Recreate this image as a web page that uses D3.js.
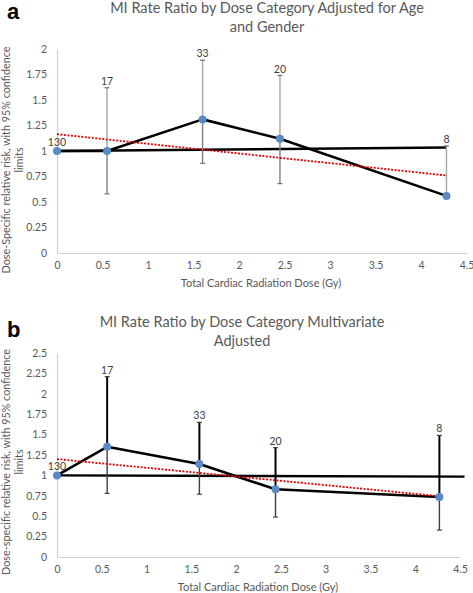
<!DOCTYPE html>
<html><head><meta charset="utf-8">
<script src="https://cdn.jsdelivr.net/npm/d3@7"></script>
<style>
body{margin:0;background:#fff;}
svg text{font-family:Lato,"Open Sans",sans-serif;}
</style></head>
<body><svg id="c" width="473" height="593"></svg>
<script>
// ---- Panel a data ----
const doseA = [0, 0.55, 1.6, 2.45, 4.28];
const rrA = [1, 1, 1.31, 1.12, 0.56];
const upperA = [1, 1.62, 1.89, 1.74, 1.05];
const lowerA = [1, 0.58, 0.88, 0.68, 0.56];
const countsA = ["130", "17", "33", "20", "8"];
const refLineA = [[0, 1], [4.28, 1.035]];
const trendA = [[0, 1.165], [4.28, 0.76]];
const yTicksA = [0, 0.25, 0.5, 0.75, 1, 1.25, 1.5, 1.75, 2];

// ---- Panel b data ----
const doseB = [0, 0.56, 1.59, 2.44, 4.27];
const rrB = [1, 1.35, 1.14, 0.83, 0.735];
const upperB = [1, 2.21, 1.65, 1.34, 1.49];
const lowerB = [1, 0.78, 0.77, 0.49, 0.33];
const countsB = ["130", "17", "33", "20", "8"];
const refLineB = [[0, 1], [4.55, 0.985]];
const trendB = [[0, 1.2], [4.27, 0.745]];
const yTicksB = [0, 0.25, 0.5, 0.75, 1, 1.25, 1.5, 1.75, 2, 2.25, 2.5];

const xTicks = [0, 0.5, 1, 1.5, 2, 2.5, 3, 3.5, 4, 4.5];
const titleA = ["MI Rate Ratio by Dose Category Adjusted for Age", "and Gender"];
const titleB = ["MI Rate Ratio by Dose Category Multivariate", "Adjusted"];
const yLabelA = ["Dose-Specific relative risk, with 95% confidence", "limits"];
const yLabelB = ["Dose-specific relative risk, with 95% confidence", "limits"];
const xLabel = "Total Cardiac Radiation Dose (Gy)";

const svg = d3.select("#c");
const fmt = d => String(d);

function panel(cfg) {
  const g = svg.append("g");
  const x = d3.scaleLinear().domain([0, 4.5]).range([57, cfg.xRight]);
  const y = d3.scaleLinear().domain([0, cfg.yMax]).range([cfg.yBottom, cfg.yTop]);

  // letter
  g.append("text").attr("x", 7).attr("y", cfg.letterY)
    .style("font-family", "Arial, 'Liberation Sans', sans-serif")
    .attr("font-weight", "bold").attr("font-size", 22).attr("fill", "#000").text(cfg.letter);

  // title
  cfg.title.forEach((t, i) => {
    g.append("text").attr("x", cfg.titleX).attr("y", cfg.titleY + i * 19).attr("text-anchor", "middle")
      .attr("font-size", 14.5).attr("fill", "#595959").text(t);
  });

  // axes
  const yAxis = d3.axisLeft(y).tickValues(cfg.yTicks).tickFormat(fmt).tickSize(0).tickPadding(10);
  const ga = g.append("g").attr("transform", "translate(57,0)").call(yAxis);
  ga.select(".domain").attr("stroke", "#d0d0d0").attr("stroke-width", 1.2);
  ga.selectAll("text").attr("fill", "#595959").attr("font-size", 10.5).style("font-family", "Lato, sans-serif");

  const xAxis = d3.axisBottom(x).tickValues(xTicks).tickFormat(fmt).tickSize(0).tickPadding(9);
  const gx = g.append("g").attr("transform", `translate(0,${cfg.yBottom})`).call(xAxis);
  gx.select(".domain").attr("stroke", "#d0d0d0").attr("stroke-width", 1.2);
  gx.selectAll("text").attr("fill", "#595959").attr("font-size", 10.5).style("font-family", "Lato, sans-serif");

  // axis titles
  g.append("text").attr("x", cfg.xLabelX).attr("y", cfg.xLabelY).attr("text-anchor", "middle")
    .attr("font-size", 11).attr("fill", "#595959").text(xLabel);
  cfg.yLabel.forEach((t, i) => {
    g.append("text").attr("transform", `translate(${10 + i * 13},${cfg.yLabelC}) rotate(-90)`)
      .attr("text-anchor", "middle").attr("font-size", 10.8).attr("fill", "#595959").text(t);
  });

  const line = d3.line().x(d => x(d[0])).y(d => y(d[1]));

  // reference horizontal line
  g.append("path").attr("d", line(cfg.ref)).attr("fill", "none").attr("stroke", "#000").attr("stroke-width", 2.4);

  // error bars
  const idx = d3.range(cfg.dose.length);
  idx.forEach(i => {
    const cx = x(cfg.dose[i]);
    if (cfg.upper[i] > cfg.rr[i]) {
      g.append("line").attr("x1", cx).attr("x2", cx).attr("y1", y(cfg.rr[i])).attr("y2", y(cfg.upper[i]))
        .attr("stroke", cfg.upColor).attr("stroke-width", cfg.upWidth);
      g.append("line").attr("x1", cx - 2.5).attr("x2", cx + 2.5).attr("y1", y(cfg.upper[i])).attr("y2", y(cfg.upper[i]))
        .attr("stroke", cfg.capColor).attr("stroke-width", 1.2);
    }
    if (cfg.lower[i] < cfg.rr[i]) {
      g.append("line").attr("x1", cx).attr("x2", cx).attr("y1", y(cfg.rr[i])).attr("y2", y(cfg.lower[i]))
        .attr("stroke", cfg.lowColor).attr("stroke-width", 1.4);
      g.append("line").attr("x1", cx - 2.5).attr("x2", cx + 2.5).attr("y1", y(cfg.lower[i])).attr("y2", y(cfg.lower[i]))
        .attr("stroke", cfg.capColor).attr("stroke-width", 1.2);
    }
  });

  // series line
  g.append("path").attr("d", line(idx.map(i => [cfg.dose[i], cfg.rr[i]])))
    .attr("fill", "none").attr("stroke", "#000").attr("stroke-width", 2.6).attr("stroke-linejoin", "round");

  // trend line
  g.append("path").attr("d", line(cfg.trend)).attr("fill", "none").attr("stroke", "#e00000")
    .attr("stroke-width", 1.8).attr("stroke-dasharray", "2,1.5");

  // points
  g.selectAll("circle.pt").data(idx).enter().append("circle")
    .attr("cx", i => x(cfg.dose[i])).attr("cy", i => y(cfg.rr[i])).attr("r", 4)
    .attr("fill", "#5a8ac6");

  // count labels
  g.selectAll("text.cnt").data(idx).enter().append("text")
    .attr("x", i => x(cfg.dose[i])).attr("y", i => y(Math.max(cfg.upper[i], cfg.rr[i])) - (i === 0 ? 5 : 3))
    .attr("text-anchor", "middle").attr("font-size", 10.5).attr("fill", "#404040").text(i => cfg.counts[i]);
}

panel({
  letter: "a", letterY: 19, title: titleA, titleX: 267, titleY: 13,
  dose: doseA, rr: rrA, upper: upperA, lower: lowerA, counts: countsA, ref: refLineA, trend: trendA,
  yTicks: yTicksA, yMax: 2, yTop: 49, yBottom: 253, xRight: 466.5,
  xLabelX: 261, xLabelY: 287, yLabel: yLabelA, yLabelC: 160,
  upColor: "#a6a6a6", upWidth: 1.4, lowColor: "#7f7f7f", capColor: "#707070"
});

panel({
  letter: "b", letterY: 337, title: titleB, titleX: 242, titleY: 327,
  dose: doseB, rr: rrB, upper: upperB, lower: lowerB, counts: countsB, ref: refLineB, trend: trendB,
  yTicks: yTicksB, yMax: 2.5, yTop: 353, yBottom: 557, xRight: 460,
  xLabelX: 258, xLabelY: 591, yLabel: yLabelB, yLabelC: 462,
  upColor: "#000", upWidth: 2, lowColor: "#404040", capColor: "#404040"
});
</script></body></html>
